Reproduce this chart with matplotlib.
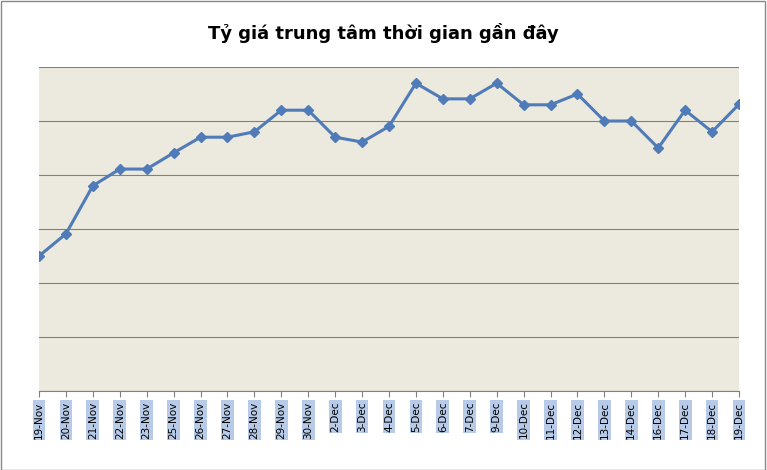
import matplotlib.pyplot as plt

dates = ["19-Nov", "20-Nov", "21-Nov", "22-Nov", "23-Nov", "25-Nov", "26-Nov", "27-Nov",
         "28-Nov", "29-Nov", "30-Nov", "2-Dec", "3-Dec", "4-Dec", "5-Dec", "6-Dec", "7-Dec",
         "9-Dec", "10-Dec", "11-Dec", "12-Dec", "13-Dec", "14-Dec", "16-Dec", "17-Dec",
         "18-Dec", "19-Dec"]
rate = [2.5, 2.91, 3.8, 4.11, 4.11, 4.41, 4.7, 4.7, 4.8, 5.2, 5.2, 4.7, 4.61, 4.9, 5.7,
        5.41, 5.41, 5.7, 5.3, 5.3, 5.5, 5.0, 5.0, 4.5, 5.2, 4.8, 5.31]

fig = plt.figure(figsize=(7.67, 4.70), dpi=100)
ax = fig.add_axes([39/767, 1-391/470, 700/767, 324/470])
ax.set_facecolor("#ece9de")
x = list(range(len(dates)))
ax.plot(x, rate, color="#4f7bb8", linewidth=2.2, marker="D", markersize=5)
ax.set_xlim(0, len(dates)-1)
ax.set_ylim(0, 6)
ax.set_yticks(range(7))
ax.set_yticklabels([])
ax.tick_params(axis="y", length=0)
ax.grid(axis="y", color="#808080", linewidth=0.8)
ax.set_axisbelow(True)
ax.set_xticks(x)
ax.set_xticklabels(dates, rotation=90, fontsize=7.5, family="Liberation Sans Narrow")
for lbl in ax.get_xticklabels():
    lbl.set_bbox(dict(facecolor="#b7cbe8", edgecolor="none", pad=1))
ax.tick_params(axis="x", length=4, color="#808080")
for s in ["top", "right", "left"]:
    ax.spines[s].set_visible(False)
ax.spines["bottom"].set_color("#808080")
fig.text(0.5, 1-33/470, "Tỷ giá trung tâm thời gian gần đây", ha="center", va="center",
         fontsize=13, fontweight="bold")
fig.patches.append(plt.Rectangle((0.001, 0.001), 0.997, 0.997, transform=fig.transFigure,
                                 fill=False, edgecolor="#888888", linewidth=1))
plt.savefig("out.png")
